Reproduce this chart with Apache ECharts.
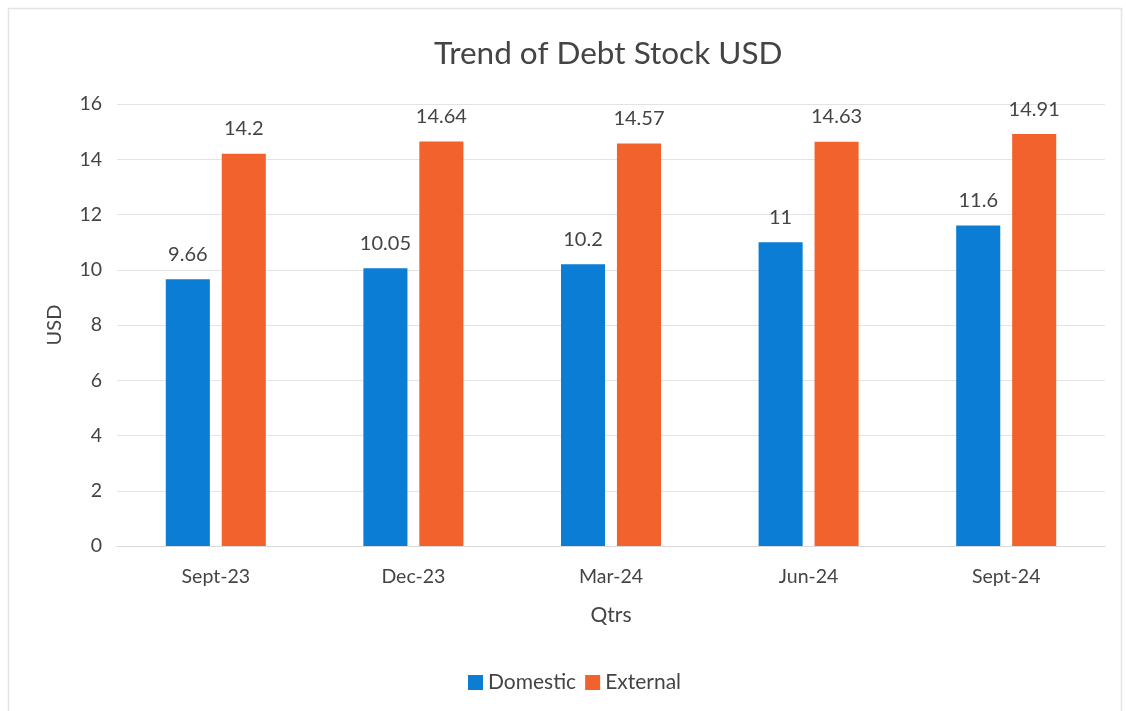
<!DOCTYPE html>
<html>
<head>
<meta charset="utf-8">
<script src="https://cdn.jsdelivr.net/npm/echarts@6/dist/echarts.min.js"></script>
<style>
  html, body { margin: 0; padding: 0; background: #fff; }
  #chart { width: 1126px; height: 711px; }
</style>
</head>
<body>
<div id="chart"></div>
<script>
// Quarterly debt stock, USD
const quarters = ['Sept-23', 'Dec-23', 'Mar-24', 'Jun-24', 'Sept-24'];
const domestic = [9.66, 10.05, 10.2, 11, 11.6];
const external = [14.2, 14.64, 14.57, 14.63, 14.91];
const yTicks = { min: 0, max: 16, interval: 2 };

const FONT = 'Lato, "Open Sans", sans-serif';
const TEXT = '#444444';

const chart = echarts.init(document.getElementById('chart'), null, { renderer: 'canvas' });

const labelStyle = {
  show: true,
  position: 'top',
  distance: 15,
  color: TEXT,
  fontFamily: FONT,
  fontSize: 20
};

chart.setOption({
  animation: false,
  backgroundColor: '#ffffff',
  graphic: [{
    type: 'rect',
    shape: { x: 8.5, y: 8.5, width: 1113, height: 720 },
    style: { fill: 'none', stroke: '#e4e4e4', lineWidth: 1.5 },
    silent: true
  }],
  title: {
    text: 'Trend of Debt Stock USD',
    left: 429,
    top: 33,
    textStyle: { color: TEXT, fontFamily: FONT, fontSize: 31.5, fontWeight: 'normal' }
  },
  legend: {
    bottom: 13,
    left: 463,
    itemWidth: 15,
    itemHeight: 15,
    itemGap: 9,
    icon: 'rect',
    textStyle: { color: TEXT, fontFamily: FONT, fontSize: 21 },
    data: ['Domestic', 'External']
  },
  grid: { left: 117, right: 21, top: 104, bottom: 165 },
  xAxis: {
    type: 'category',
    data: quarters,
    name: 'Qtrs',
    nameLocation: 'middle',
    nameGap: 59,
    nameTextStyle: { color: TEXT, fontFamily: FONT, fontSize: 21 },
    axisLine: { show: true, lineStyle: { color: '#d9d9d9', width: 1 } },
    axisTick: { show: false },
    axisLabel: { color: TEXT, fontFamily: FONT, fontSize: 19.5, margin: 21 }
  },
  yAxis: {
    type: 'value',
    min: yTicks.min,
    max: yTicks.max,
    interval: yTicks.interval,
    name: 'USD',
    nameLocation: 'middle',
    nameGap: 52,
    nameTextStyle: { color: TEXT, fontFamily: FONT, fontSize: 20 },
    axisLine: { show: false },
    axisTick: { show: false },
    axisLabel: { color: TEXT, fontFamily: FONT, fontSize: 19.5, margin: 15 },
    splitLine: { lineStyle: { color: '#e3e3e3', width: 1 } }
  },
  series: [
    {
      name: 'Domestic',
      type: 'bar',
      data: domestic,
      barWidth: '22.3%',
      barGap: '27%',
      itemStyle: { color: '#0B7DD4' },
      label: labelStyle
    },
    {
      name: 'External',
      type: 'bar',
      data: external,
      barWidth: '22.3%',
      barGap: '27%',
      itemStyle: { color: '#F2622D' },
      label: labelStyle
    }
  ]
});
</script>
</body>
</html>
